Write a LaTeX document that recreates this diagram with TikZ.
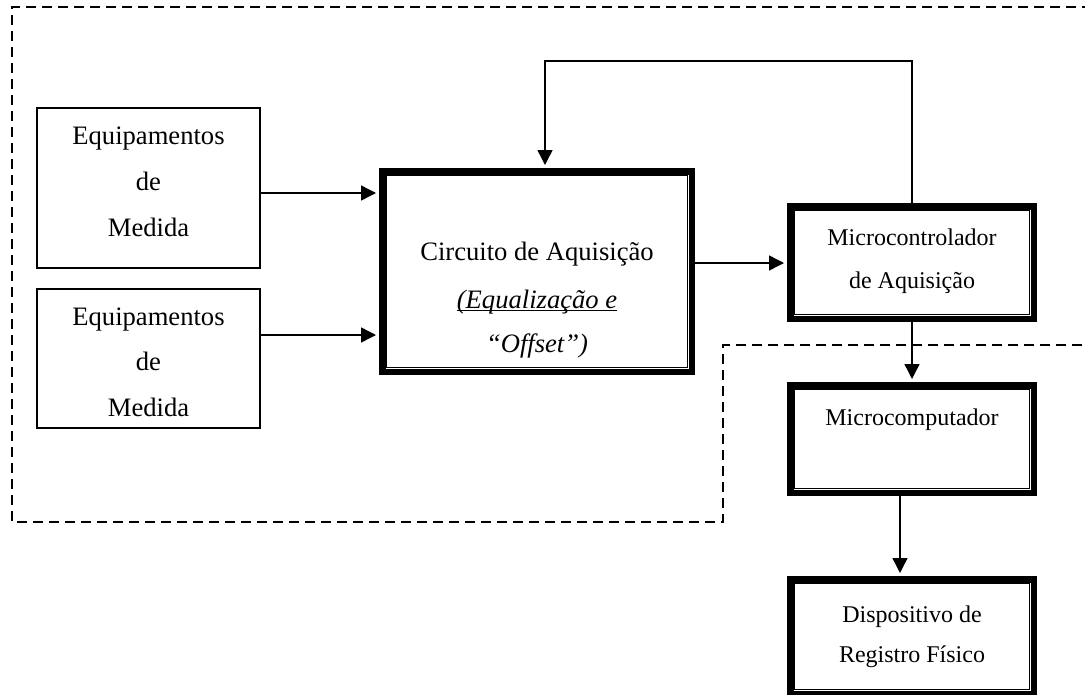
\documentclass[tikz,border=0pt]{standalone}
\usepackage{fontspec}
\setmainfont{Liberation Serif}
\usetikzlibrary{arrows.meta,calc}
\begin{document}
\begin{tikzpicture}[x=1pt,y=-1pt,
  plainbox/.style={draw,line width=1.5pt,inner sep=0pt},
  heavybox/.style={draw,line width=6.5pt,inner sep=0pt},
  innerframe/.style={draw,line width=1.4pt},
  lbl/.style={anchor=base,inner sep=0pt,font=\fontsize{26.6}{30}\selectfont},
  slbl/.style={anchor=base,inner sep=0pt,font=\fontsize{24}{28}\selectfont},
  arr/.style={line width=1.4pt,-{Triangle[length=15pt,width=15pt]}},
  frame/.style={line width=1.5pt,dash pattern=on 10pt off 6pt}]
\useasboundingbox (0,0) rectangle (1085,694);

% dashed frame
\draw[frame] (1092,7) -- (12,7) -- (12,522) -- (723,522) -- (723,345) -- (1092,345);

% boxes
\node[plainbox,minimum width=223pt,minimum height=160pt] (eq1) at (148.5,188) {};
\node[plainbox,minimum width=223pt,minimum height=139pt] (eq2) at (148.5,358.5) {};
\node[heavybox,minimum width=309.5pt,minimum height=200.5pt] (circ) at (537,271.5) {};
\node[heavybox,minimum width=243.5pt,minimum height=112.5pt] (mc) at (912,262.5) {};
\node[heavybox,minimum width=243.5pt,minimum height=107.5pt] (mcomp) at (912,439) {};
\node[heavybox,minimum width=243.5pt,minimum height=114.5pt] (disp) at (912,636.5) {};
\draw[innerframe] ($(circ.north west)+(7.5pt,-7.5pt)$) rectangle ($(circ.south east)+(-7.5pt,7.5pt)$);
\draw[innerframe] ($(mc.north west)+(7.5pt,-7.5pt)$) rectangle ($(mc.south east)+(-7.5pt,7.5pt)$);
\draw[innerframe] ($(mcomp.north west)+(7.5pt,-7.5pt)$) rectangle ($(mcomp.south east)+(-7.5pt,7.5pt)$);
\draw[innerframe] ($(disp.north west)+(7.5pt,-7.5pt)$) rectangle ($(disp.south east)+(-7.5pt,7.5pt)$);

% texts
\node[lbl] (eq1a) at (148.5,144) {Equipamentos};
\node[lbl] (eq1b) at (148.5,190.5) {de};
\node[lbl] (eq1c) at (148.5,236.5) {Medida};
\node[lbl] (eq2a) at (148.5,325.5) {Equipamentos};
\node[lbl] (eq2b) at (148.5,370.5) {de};
\node[lbl] (eq2c) at (148.5,416.5) {Medida};
\node[lbl] (circa) at (537,260) {Circuito de Aquisição};
\node[lbl] (circb) at (537,308) {\itshape (Equalização e};
\draw[line width=1.2pt] ([yshift=-2.5pt]circb.base west) -- ([yshift=-2.5pt]circb.base east);
\node[lbl] (circc) at (537,352) {\itshape “Offset”)};
\node[slbl] (mca) at (912,245) {Microcontrolador};
\node[slbl] (mcb) at (912,288) {de Aquisição};
\node[slbl] (mcompa) at (912,425) {Microcomputador};
\node[slbl] (dispa) at (912,622) {Dispositivo de};
\node[slbl] (dispb) at (912,662) {Registro Físico};

% connectors
\coordinate (ya) at (0,193);
\coordinate (yb) at (0,335);
\coordinate (yc) at (0,263);
\coordinate (x9) at (900,0);
\coordinate (fb) at (545,61);
\draw[arr,shorten >=3pt] (eq1.east |- ya) -- (circ.west |- ya);
\draw[arr,shorten >=3pt] (eq2.east |- yb) -- (circ.west |- yb);
\draw[arr,shorten >=3pt] (circ.east |- yc) -- (mc.west |- yc);
\draw[arr,shorten >=3pt] (mc.south) -- (mcomp.north);
\draw[arr,shorten >=3pt] (mcomp.south -| x9) -- (disp.north -| x9);
\draw[arr,shorten >=3pt] (mc.north) |- (fb) -- (fb |- circ.north);
\end{tikzpicture}
\end{document}
